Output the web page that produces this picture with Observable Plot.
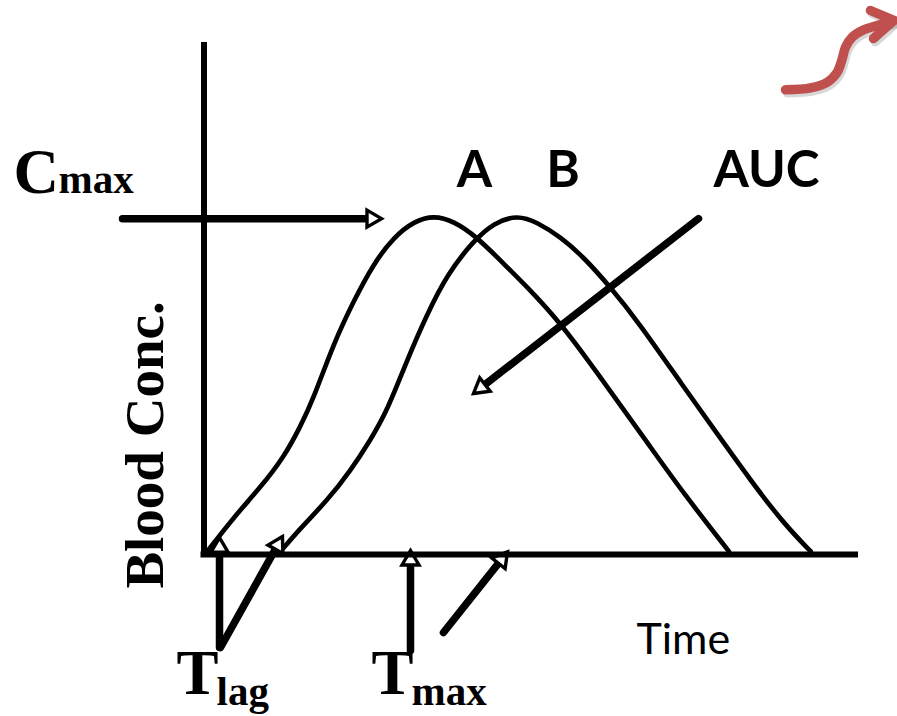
<!DOCTYPE html>
<html>
<head>
<meta charset="utf-8">
<script src="https://cdn.jsdelivr.net/npm/d3@7"></script>
<script src="https://cdn.jsdelivr.net/npm/@observablehq/plot@0.6"></script>
<style>
  html, body { margin: 0; padding: 0; background: #fff; }
  #chart svg { display: block; }
</style>
</head>
<body>
<div id="chart"></div>
<script>
// ---- Curve A (time, blood concentration) ----
const timeA = [0.05, 0.455, 0.863, 1.22, 1.47, 1.68, 1.98, 2.29, 2.59, 2.90, 3.21, 3.51, 3.82, 4.17, 4.53, 4.99, 5.45, 5.91, 6.31, 6.82, 7.33, 8.02];
const concA = [0.06, 0.73, 1.31, 1.90, 2.49, 3.07, 4.12, 4.96, 5.68, 6.20, 6.51, 6.62, 6.51, 6.20, 5.74, 5.16, 4.51, 3.72, 3.01, 2.10, 1.19, 0.06];

// ---- Curve B ----
const timeB = [1.17, 1.47, 1.88, 2.24, 2.54, 2.80, 3.10, 3.41, 3.72, 4.12, 4.43, 4.79, 5.09, 5.45, 5.80, 6.21, 6.62, 7.33, 7.84, 8.35, 8.86, 9.27];
const concB = [0.06, 0.51, 1.05, 1.64, 2.23, 2.81, 3.79, 4.70, 5.48, 6.13, 6.48, 6.63, 6.49, 6.20, 5.81, 5.22, 4.57, 3.27, 2.36, 1.45, 0.60, 0.06];

// ---- Annotation arrows: Cmax, AUC, Tlag (2), Tmax (2) ----
const arrowX1 = [-1.245, 7.555, 0.237, 0.252, 3.155, 3.659];
const arrowY1 = [6.56, 6.56, -1.816, -1.816, -1.875, -1.523];
const arrowX2 = [2.712, 4.118, 0.237, 1.199, 3.155, 4.637];
const arrowY2 = [6.56, 3.145, 0.33, 0.35, 0.078, 0.05];

// ---- Decorative red curved arrow (top right) ----
const redPathX = [8.885, 9.267, 9.522, 9.675, 9.751, 9.801, 9.904, 10.081, 10.286, 10.539];
const redPathY = [9.076, 9.115, 9.225, 9.42, 9.682, 9.908, 10.104, 10.248, 10.332, 10.43];
const redHeadX = [10.183, 10.539, 10.229];
const redHeadY = [10.625, 10.43, 10.078];

// ---- Axes extents ----
const axisTime = [-0.046, 10];
const axisConc = [0, 10];

// ---- Labels ----
const serifText = ["C", "max", "T", "lag", "T", "max"];
const serifX = [-2.911, -2.223, -0.420, 0.191, 2.559, 3.170];
const serifY = [7.070, 7.051, -2.734, -2.930, -2.734, -2.949];
const serifSize = [63, 41, 63, 41, 63, 41];

const curveLabels = ["A", "B", "AUC"];
const curveLabelX = [4.133, 5.485, 8.594];
const curveLabelY = [7.168, 7.168, 7.168];

const yTitle = "Blood Conc.";
const yTitleX = -0.634, yTitleY = 2.139;
const xTitle = "Time";
const xTitleX = 6.608, xTitleY = -1.953;

// ---- Build tables ----
const xDomain = [0, 10], xRange = [203.5, 858];
const yDomain = [0, 10], yRange = [554, 42];
const X = d3.scaleLinear(xDomain, xRange);
const Y = d3.scaleLinear(yDomain, yRange);

const dataA = timeA.map((t, i) => ({t, c: concA[i]}));
const dataB = timeB.map((t, i) => ({t, c: concB[i]}));
const redPath = redPathX.map((x, i) => ({x, y: redPathY[i]}));
const redHead = redHeadX.map((x, i) => ({x, y: redHeadY[i]}));

const shafts = [], heads = [];
const HEAD_LEN = 13;
arrowX1.forEach((x1, i) => {
  const y1 = arrowY1[i], x2 = arrowX2[i], y2 = arrowY2[i];
  const px1 = X(x1), py1 = Y(y1), px2 = X(x2), py2 = Y(y2);
  const dx = px2 - px1, dy = py2 - py1, L = Math.hypot(dx, dy);
  const ux = dx / L, uy = dy / L;
  shafts.push({x1, y1, x2: X.invert(px2 - ux * HEAD_LEN), y2: Y.invert(py2 - uy * HEAD_LEN)});
  heads.push({x: x2, y: y2, angle: Math.atan2(ux, -uy) * 180 / Math.PI});
});

const headSymbol = {
  draw(ctx) {
    ctx.moveTo(0, 0);
    ctx.lineTo(-8.5, 14.5);
    ctx.lineTo(8.5, 14.5);
    ctx.closePath();
  }
};

const serifLabels = serifText.map((text, i) => ({text, x: serifX[i], y: serifY[i], size: serifSize[i]}));
const bigSerif = serifLabels.filter(d => d.size > 50);
const smallSerif = serifLabels.filter(d => d.size <= 50);
const curveLabelData = curveLabels.map((text, i) => ({text, x: curveLabelX[i], y: curveLabelY[i]}));

const chart = Plot.plot({
  width: 897,
  height: 716,
  margin: 0,
  x: {domain: xDomain, range: xRange, axis: null},
  y: {domain: yDomain, range: yRange, axis: null},
  style: {background: "white", overflow: "visible"},
  marks: [
    // red decorative arrow (shadow then arrow)
    Plot.line(redPath, {x: "x", y: "y", curve: "catmull-rom", stroke: "#7a7a7a", strokeOpacity: 0.3, strokeWidth: 9.5, strokeLinecap: "round", dx: 2, dy: 3}),
    Plot.line(redHead, {x: "x", y: "y", stroke: "#7a7a7a", strokeOpacity: 0.3, strokeWidth: 9.5, strokeLinecap: "round", strokeLinejoin: "round", dx: 2, dy: 3}),
    Plot.line(redPath, {x: "x", y: "y", curve: "catmull-rom", stroke: "#c0504d", strokeWidth: 9.5, strokeLinecap: "round"}),
    Plot.line(redHead, {x: "x", y: "y", stroke: "#c0504d", strokeWidth: 9.5, strokeLinecap: "round", strokeLinejoin: "round"}),

    // curves
    Plot.line(dataA, {x: "t", y: "c", curve: "basis", stroke: "black", strokeWidth: 4.7}),
    Plot.line(dataB, {x: "t", y: "c", curve: "basis", stroke: "black", strokeWidth: 4.7}),

    // arrows
    Plot.link(shafts, {x1: "x1", y1: "y1", x2: "x2", y2: "y2", stroke: "black", strokeWidth: 7.5, strokeLinecap: "round"}),
    Plot.dot(heads, {x: "x", y: "y", rotate: "angle", symbol: headSymbol, fill: "white", stroke: "black", strokeWidth: 3.4, strokeLinejoin: "miter"}),

    // axes
    Plot.ruleX([0], {y1: axisConc[0], y2: axisConc[1], stroke: "black", strokeWidth: 6}),
    Plot.ruleY([0], {x1: axisTime[0], x2: axisTime[1], stroke: "black", strokeWidth: 6}),

    // texts
    Plot.text(bigSerif, {x: "x", y: "y", text: "text", textAnchor: "start", lineAnchor: "bottom", fontFamily: "Liberation Serif", fontWeight: "bold", fontSize: 63, fill: "black"}),
    Plot.text(smallSerif, {x: "x", y: "y", text: "text", textAnchor: "start", lineAnchor: "bottom", fontFamily: "Liberation Serif", fontWeight: "bold", fontSize: 41, fill: "black"}),
    Plot.text([yTitle], {x: yTitleX, y: yTitleY, text: d => d, rotate: -90, textAnchor: "middle", lineAnchor: "bottom", fontFamily: "Liberation Serif", fontWeight: "bold", fontSize: 55, fill: "black"}),
    Plot.text(curveLabelData, {x: "x", y: "y", text: "text", textAnchor: "middle", lineAnchor: "bottom", fontFamily: "Lato", fontWeight: "bold", fontSize: 51, fill: "black"}),
    Plot.text([xTitle], {x: xTitleX, y: xTitleY, text: d => d, textAnchor: "start", lineAnchor: "bottom", fontFamily: "Lato", fontSize: 43, fill: "black"})
  ]
});
document.getElementById("chart").appendChild(chart);
</script>
</body>
</html>
